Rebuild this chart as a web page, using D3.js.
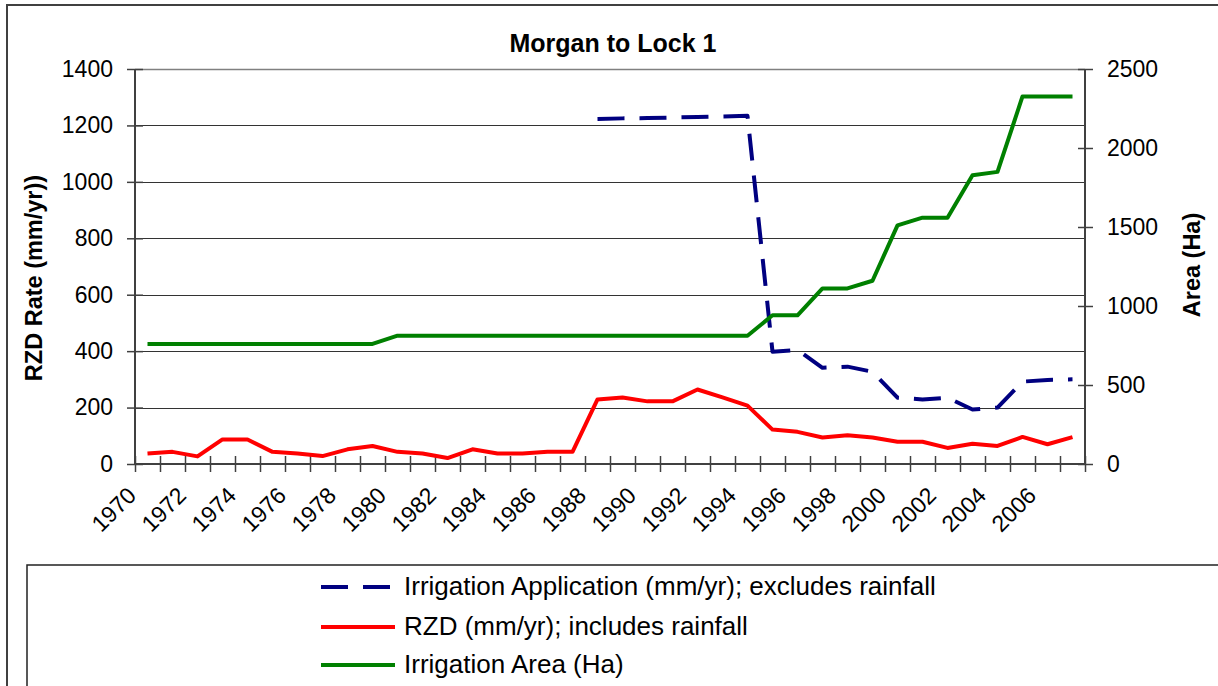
<!DOCTYPE html>
<html lang="en">

<head>
    <meta charset="UTF-8">
    <script src="https://d3js.org/d3.v7.min.js"></script>
    <title>Morgan to Lock 1</title>
    <style>
        body { margin: 0; background: #fff; }
        svg { display: block; font-family: "Liberation Sans", Arial, sans-serif; }
        .tick text { fill: #000; }
    </style>
</head>

<body>
    <div id="chart"></div>
    <script>
        // Data
        const years = [1970, 1971, 1972, 1973, 1974, 1975, 1976, 1977, 1978, 1979,
            1980, 1981, 1982, 1983, 1984, 1985, 1986, 1987, 1988, 1989,
            1990, 1991, 1992, 1993, 1994, 1995, 1996, 1997, 1998, 1999,
            2000, 2001, 2002, 2003, 2004, 2005, 2006, 2007];

        // Irrigation Application (mm/yr); excludes rainfall - left axis
        const irrigationApp = [null, null, null, null, null, null, null, null, null, null,
            null, null, null, null, null, null, null, null, 1223, 1225,
            1226, 1228, 1230, 1232, 1234, 398, 404, 341, 345, 327,
            235, 229, 235, 193, 200, 292, 298, 300];

        // RZD (mm/yr); includes rainfall - left axis
        const rzd = [37, 43, 27, 87, 87, 43, 37, 28, 52, 64,
            43, 37, 21, 52, 37, 37, 43, 43, 229, 236,
            222, 222, 264, 236, 207, 122, 114, 94, 102, 94,
            79, 79, 57, 72, 64, 96, 70, 95];

        // Irrigation Area (Ha) - right axis
        const irrigationArea = [760, 760, 760, 760, 760, 760, 760, 760, 760, 760,
            812, 812, 812, 812, 812, 812, 812, 812, 812, 812,
            812, 812, 812, 812, 812, 941, 941, 1111, 1111, 1160,
            1510, 1559, 1559, 1828, 1849, 2326, 2326, 2326];

        const leftTicks = [0, 200, 400, 600, 800, 1000, 1200, 1400];
        const rightTicks = [0, 500, 1000, 1500, 2000, 2500];
        const yearLabels = [1970, 1972, 1974, 1976, 1978, 1980, 1982, 1984, 1986, 1988,
            1990, 1992, 1994, 1996, 1998, 2000, 2002, 2004, 2006];

        const series = [
            { name: "Irrigation Application (mm/yr); excludes rainfall", values: irrigationApp, axis: "left", color: "#000080", dash: "27,15" },
            { name: "RZD (mm/yr); includes rainfall", values: rzd, axis: "left", color: "#ff0000", dash: null },
            { name: "Irrigation Area (Ha)", values: irrigationArea, axis: "right", color: "#008000", dash: null }
        ];

        // Dimensions
        const width = 1218;
        const height = 686;
        const plot = { left: 135, right: 1085, top: 69, bottom: 464 };

        const svg = d3.select("#chart")
            .append("svg")
            .attr("width", width)
            .attr("height", height);

        // Chart area border (runs off the right and bottom)
        svg.append("rect")
            .attr("x", 7)
            .attr("y", 5)
            .attr("width", width + 20)
            .attr("height", height + 20)
            .attr("fill", "#fff")
            .attr("stroke", "#404040")
            .attr("stroke-width", 2);

        // Scales
        const xEdge = d3.scaleLinear()
            .domain([years[0], years[years.length - 1] + 1])
            .range([plot.left, plot.right]);
        const x = d => xEdge(d + 0.5);

        const yLeft = d3.scaleLinear().domain([0, 1400]).range([plot.bottom, plot.top]);
        const yRight = d3.scaleLinear().domain([0, 2500]).range([plot.bottom, plot.top]);

        // Gridlines
        svg.append("g")
            .selectAll("line")
            .data(leftTicks.filter(d => d > 0))
            .join("line")
            .attr("x1", plot.left)
            .attr("x2", plot.right)
            .attr("y1", d => Math.round(yLeft(d)) + 0.5)
            .attr("y2", d => Math.round(yLeft(d)) + 0.5)
            .attr("stroke", d => d === 1400 ? "#808080" : "#333")
            .attr("stroke-width", d => d === 1400 ? 1.5 : 1);

        // Left axis
        const gLeft = svg.append("g")
            .attr("transform", `translate(${plot.left},0)`)
            .call(d3.axisLeft(yLeft).tickValues(leftTicks).tickFormat(d3.format("d"))
                .tickSize(8).tickPadding(14));
        gLeft.selectAll(".tick line").attr("x1", 8);
        gLeft.selectAll(".tick text").attr("font-size", 23).attr("font-family", null);

        // Right axis
        const gRight = svg.append("g")
            .attr("transform", `translate(${plot.right},0)`)
            .call(d3.axisRight(yRight).tickValues(rightTicks).tickFormat(d3.format("d"))
                .tickSize(8).tickPadding(14));
        gRight.selectAll(".tick line").attr("x1", -7);
        gRight.selectAll(".tick text").attr("font-size", 23).attr("font-family", null);

        // Bottom axis: ticks at category edges, labels every second year
        const edges = years.concat([years[years.length - 1] + 1]);
        const gBottom = svg.append("g")
            .attr("transform", `translate(0,${plot.bottom})`)
            .call(d3.axisBottom(xEdge).tickValues(edges).tickSize(8)
                .tickFormat(d => yearLabels.includes(d) ? d : ""));
        gBottom.selectAll(".tick line").attr("y1", -8);
        gBottom.selectAll(".tick text")
            .attr("font-size", 23)
            .attr("font-family", null)
            .attr("text-anchor", "end")
            .attr("dy", null)
            .attr("y", 0)
            .attr("transform", "translate(2,33) rotate(-45)");

        [gLeft, gRight, gBottom].forEach(g => {
            g.select(".domain").attr("stroke", "#404040").attr("stroke-width", 2);
            g.selectAll(".tick line").attr("stroke", "#404040").attr("stroke-width", 1.5);
        });
        gLeft.select(".domain").attr("d", `M0,${plot.top}V${plot.bottom}`);
        gRight.select(".domain").attr("d", `M0,${plot.top}V${plot.bottom}`);
        gBottom.select(".domain").attr("d", `M${plot.left},0H${plot.right}`);

        // Lines
        series.forEach(s => {
            const y = s.axis === "left" ? yLeft : yRight;
            const line = d3.line()
                .defined(d => d != null)
                .x((d, i) => x(years[i]))
                .y(d => y(d));
            svg.append("path")
                .datum(s.values)
                .attr("fill", "none")
                .attr("stroke", s.color)
                .attr("stroke-width", 4)
                .attr("stroke-linejoin", "round")
                .attr("stroke-dasharray", s.dash)
                .attr("d", line);
        });

        // Title
        svg.append("text")
            .attr("x", 613)
            .attr("y", 52)
            .attr("text-anchor", "middle")
            .attr("font-size", 25)
            .attr("font-weight", "bold")
            .text("Morgan to Lock 1");

        // Axis titles
        svg.append("text")
            .attr("transform", "translate(42,278) rotate(-90)")
            .attr("text-anchor", "middle")
            .attr("font-size", 23.5)
            .attr("font-weight", "bold")
            .text("RZD Rate (mm/yr))");

        svg.append("text")
            .attr("transform", "translate(1200,265) rotate(-90)")
            .attr("text-anchor", "middle")
            .attr("font-size", 23.5)
            .attr("font-weight", "bold")
            .text("Area (Ha)");

        // Legend
        svg.append("rect")
            .attr("x", 27)
            .attr("y", 565)
            .attr("width", width)
            .attr("height", 200)
            .attr("fill", "#fff")
            .attr("stroke", "#222")
            .attr("stroke-width", 1.5);

        const legend = svg.append("g")
            .selectAll("g")
            .data(series)
            .join("g")
            .attr("transform", (d, i) => `translate(321,${[587, 627, 665][i]})`);

        legend.append("line")
            .attr("x1", 0)
            .attr("x2", 74)
            .attr("stroke", d => d.color)
            .attr("stroke-width", 4)
            .attr("stroke-dasharray", d => d.dash);

        legend.append("text")
            .attr("x", 83)
            .attr("y", 8)
            .attr("font-size", 26)
            .text(d => d.name);
    </script>
</body>

</html>
